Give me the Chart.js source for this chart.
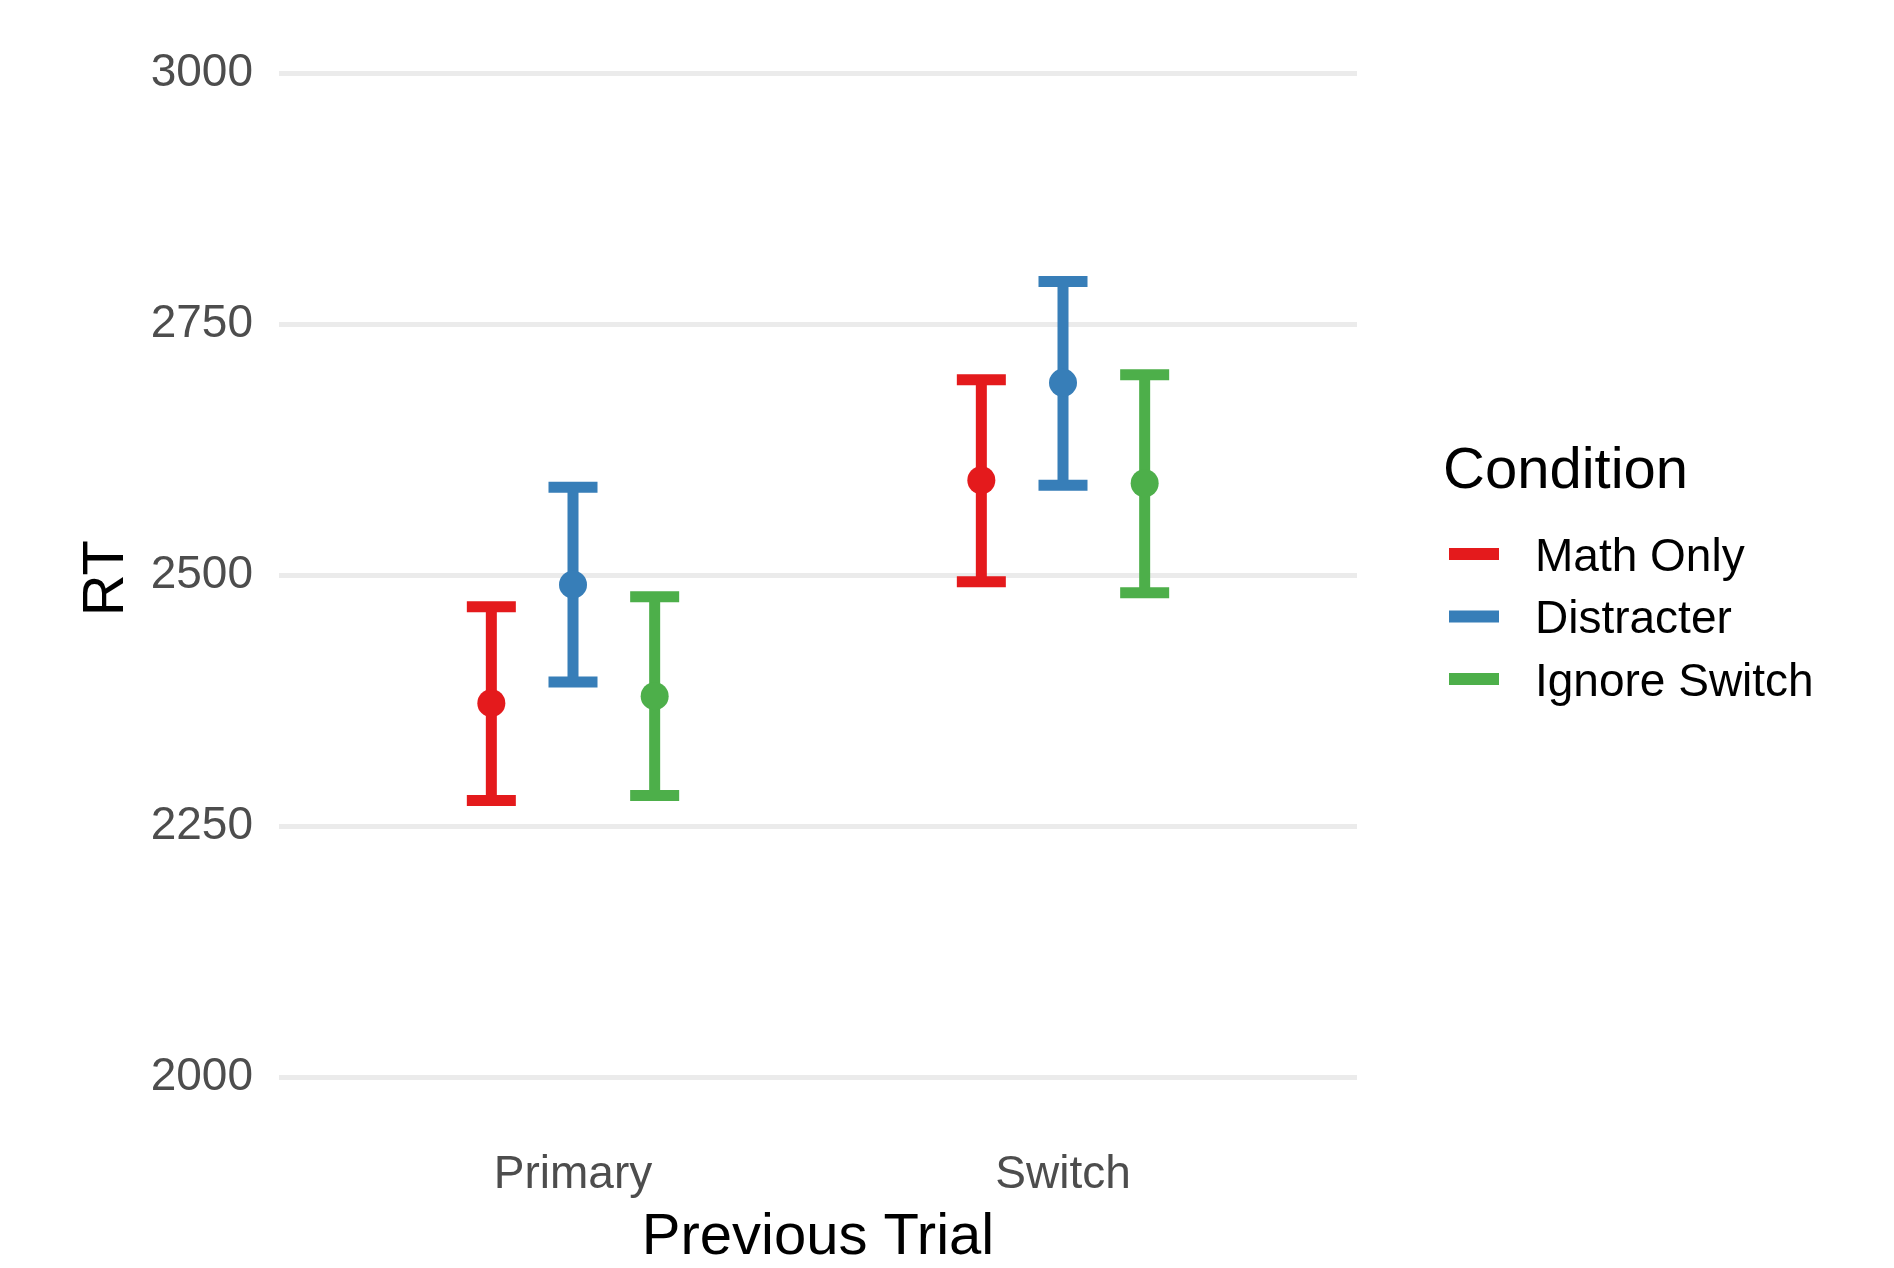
<!DOCTYPE html>
<html>
<head>
<meta charset="utf-8">
<script src="https://cdn.jsdelivr.net/npm/chart.js@4"></script>
<style>
  html, body { margin: 0; padding: 0; background: #ffffff; }
  canvas { display: block; }
</style>
</head>
<body>
<canvas id="rt-chart" width="1894" height="1268"></canvas>
<script>
const categories = ["Primary", "Switch"];
const conditions = ["Math Only", "Distracter", "Ignore Switch"];
const colors = ["#E41A1C", "#377EB8", "#4DAF4A"];

// mean RT per condition, one value per previous-trial category
const mathOnlyMean = [2373, 2595];
const distracterMean = [2491, 2692];
const ignoreSwitchMean = [2380, 2592];

const mathOnlyLow = [2276, 2494];
const distracterLow = [2394, 2590];
const ignoreSwitchLow = [2281, 2483];

const mathOnlyHigh = [2469, 2695];
const distracterHigh = [2588, 2793];
const ignoreSwitchHigh = [2479, 2700];

const yTicks = [2000, 2250, 2500, 2750, 3000];

const means = [mathOnlyMean, distracterMean, ignoreSwitchMean];
const lows = [mathOnlyLow, distracterLow, ignoreSwitchLow];
const highs = [mathOnlyHigh, distracterHigh, ignoreSwitchHigh];

const dodge = [-1 / 6, 0, 1 / 6];
const capHalf = 0.05;
const FONT = "'Liberation Sans', Arial, sans-serif";

const datasets = conditions.map((name, i) => ({
  label: name,
  data: means[i].map((v, j) => ({ x: j + 1 + dodge[i], y: v })),
  backgroundColor: colors[i],
  borderWidth: 0,
  pointRadius: 14,
  pointHoverRadius: 14,
}));

const errorBars = {
  id: "errorBars",
  beforeDatasetsDraw(chart) {
    const { ctx, scales: { x, y } } = chart;
    ctx.save();
    ctx.lineWidth = 11;
    ctx.lineCap = "butt";
    conditions.forEach((_, i) => {
      ctx.strokeStyle = colors[i];
      categories.forEach((_, j) => {
        const cx = j + 1 + dodge[i];
        const px = x.getPixelForValue(cx);
        const x0 = x.getPixelForValue(cx - capHalf);
        const x1 = x.getPixelForValue(cx + capHalf);
        const yl = y.getPixelForValue(lows[i][j]);
        const yh = y.getPixelForValue(highs[i][j]);
        ctx.beginPath();
        ctx.moveTo(x0, yh); ctx.lineTo(x1, yh);
        ctx.moveTo(px, yh); ctx.lineTo(px, yl);
        ctx.moveTo(x0, yl); ctx.lineTo(x1, yl);
        ctx.stroke();
      });
    });
    ctx.restore();
  },
};

const legendBox = {
  id: "legendBox",
  afterDraw(chart) {
    const ctx = chart.ctx;
    ctx.save();
    ctx.fillStyle = "#000000";
    ctx.textBaseline = "alphabetic";
    ctx.textAlign = "left";
    ctx.font = `58px ${FONT}`;
    ctx.fillText("Condition", 1443, 488);
    ctx.font = `46px ${FONT}`;
    conditions.forEach((name, i) => {
      const cy = 554 + i * 62.5;
      ctx.strokeStyle = colors[i];
      ctx.lineWidth = 12;
      ctx.beginPath();
      ctx.moveTo(1449, cy);
      ctx.lineTo(1499, cy);
      ctx.stroke();
      ctx.fillText(name, 1535, cy + 16.5);
    });
    ctx.restore();
  },
};

new Chart(document.getElementById("rt-chart"), {
  type: "scatter",
  data: { datasets },
  options: {
    responsive: false,
    devicePixelRatio: 1,
    animation: false,
    layout: { autoPadding: false, padding: { left: 0, right: 537, top: 19, bottom: 0 } },
    plugins: {
      legend: { display: false },
      tooltip: { enabled: false },
    },
    scales: {
      x: {
        type: "linear",
        min: 0.4,
        max: 2.6,
        afterBuildTicks: (s) => { s.ticks = categories.map((_, j) => ({ value: j + 1 })); },
        afterFit: (s) => { s.height = 140; },
        ticks: {
          callback: (v) => categories[v - 1] || "",
          color: "#4D4D4D",
          font: { family: FONT, size: 46 },
          padding: 12,
          maxRotation: 0,
        },
        grid: { display: false },
        border: { display: false },
        title: {
          display: true,
          text: "Previous Trial",
          color: "#000000",
          font: { family: FONT, size: 58, lineHeight: 1.05 },
          padding: { top: 0, bottom: 0 },
        },
      },
      y: {
        min: 1950,
        max: 3045,
        afterBuildTicks: (s) => { s.ticks = yTicks.map((v) => ({ value: v })); },
        afterFit: (s) => { s.width = 279; },
        ticks: {
          callback: (v) => String(v),
          color: "#4D4D4D",
          font: { family: FONT, size: 46, lineHeight: 0.1 },
          padding: 26,
        },
        grid: { color: "#EBEBEB", lineWidth: 5, drawTicks: false },
        border: { display: false },
        title: {
          display: true,
          text: "RT",
          color: "#000000",
          font: { family: FONT, size: 58 },
          padding: { top: 72, bottom: 0 },
        },
      },
    },
  },
  plugins: [errorBars, legendBox],
});
</script>
</body>
</html>
